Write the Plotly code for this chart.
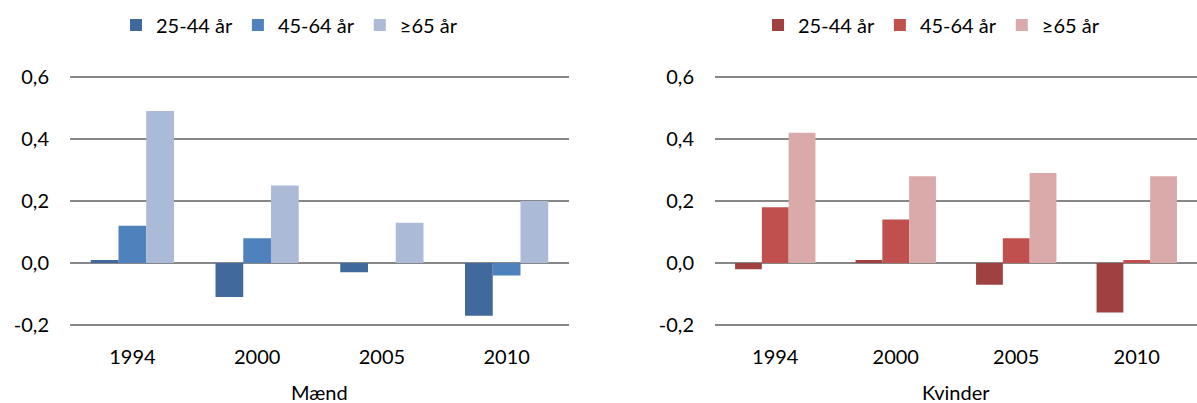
import plotly.graph_objects as go

years = ["1994", "2000", "2005", "2010"]
series_names = ["25-44 år", "45-64 år", "≥65 år"]

men_25_44 = [0.01, -0.11, -0.03, -0.17]
men_45_64 = [0.12, 0.08, 0.00, -0.04]
men_65 = [0.49, 0.25, 0.13, 0.20]

women_25_44 = [-0.02, 0.01, -0.07, -0.16]
women_45_64 = [0.18, 0.14, 0.08, 0.01]
women_65 = [0.42, 0.28, 0.29, 0.28]

y_tickvals = [-0.2, 0.0, 0.2, 0.4, 0.6]
y_ticktext = ["-0,2", "0,0", "0,2", "0,4", "0,6"]

blue_colors = ["#41699C", "#4F81BD", "#AABAD7"]
red_colors = ["#A04040", "#C0504D", "#DAA9AA"]

FONT = "Lato"
FS = 20

fig = go.Figure()
for name, vals, col in zip(series_names, [men_25_44, men_45_64, men_65], blue_colors):
    fig.add_trace(go.Bar(x=years, y=vals, name=name, marker=dict(color=col, line=dict(width=0)),
                         xaxis="x", yaxis="y", legend="legend"))
for name, vals, col in zip(series_names, [women_25_44, women_45_64, women_65], red_colors):
    fig.add_trace(go.Bar(x=years, y=vals, name=name, marker=dict(color=col, line=dict(width=0)),
                         xaxis="x2", yaxis="y2", legend="legend2"))

W, H = 1197, 403
PPU = 310.0  # pixels per y unit
YMIN, YMAX = -0.205, 0.605
y_px_top = 77 - (YMAX - 0.6) * PPU
y_px_bot = 325 + (-0.2 - YMIN) * PPU
ytop, ybot = 1 - y_px_top / H, 1 - y_px_bot / H

yax = dict(range=[YMIN, YMAX], tickvals=y_tickvals, ticktext=y_ticktext, showgrid=True,
           gridcolor="#878787", gridwidth=2, zeroline=False, showline=False, automargin=False,
           tickfont=dict(family=FONT, size=FS, color="#000000"), ticklabelstandoff=20,
           domain=[ybot, ytop], fixedrange=True)
xax = dict(type="category", showgrid=False, zeroline=False, showline=False, ticks="", automargin=False,
           tickfont=dict(family=FONT, size=FS, color="#000000"), ticklabelstandoff=16)

fig.update_layout(
    width=W, height=H,
    margin=dict(l=0, r=0, t=0, b=0, autoexpand=False),
    paper_bgcolor="white", plot_bgcolor="white",
    barmode="group", bargap=0.333, bargroupgap=0,
    font=dict(family=FONT, size=FS, color="#000000"),
    xaxis=dict(xax, domain=[70 / W, 569 / W], anchor="y"),
    yaxis=dict(yax, anchor="x"),
    xaxis2=dict(xax, domain=[715 / W, 1.0], anchor="y2"),
    yaxis2=dict(yax, anchor="x2"),
    legend=dict(orientation="h", x=116 / W, y=1 - 25 / H, xanchor="left", yanchor="middle",
                font=dict(family=FONT, size=FS), bgcolor="rgba(0,0,0,0)", traceorder="normal",
                itemwidth=30),
    legend2=dict(orientation="h", x=758 / W, y=1 - 25 / H, xanchor="left", yanchor="middle",
                 font=dict(family=FONT, size=FS), bgcolor="rgba(0,0,0,0)", traceorder="normal",
                 itemwidth=30),
    annotations=[
        dict(text="Mænd", x=(70 + 569) / 2 / W, y=1 - 392 / H, xref="paper", yref="paper",
             showarrow=False, font=dict(family=FONT, size=FS), xanchor="center", yanchor="middle"),
        dict(text="Kvinder", x=(715 + 1197) / 2 / W, y=1 - 392 / H, xref="paper", yref="paper",
             showarrow=False, font=dict(family=FONT, size=FS), xanchor="center", yanchor="middle"),
    ],
)

fig.write_html("out.html", config={"displayModeBar": False},
               post_script="document.body.style.margin='0';document.body.style.padding='0';"
                           "document.body.style.overflow='hidden';")
